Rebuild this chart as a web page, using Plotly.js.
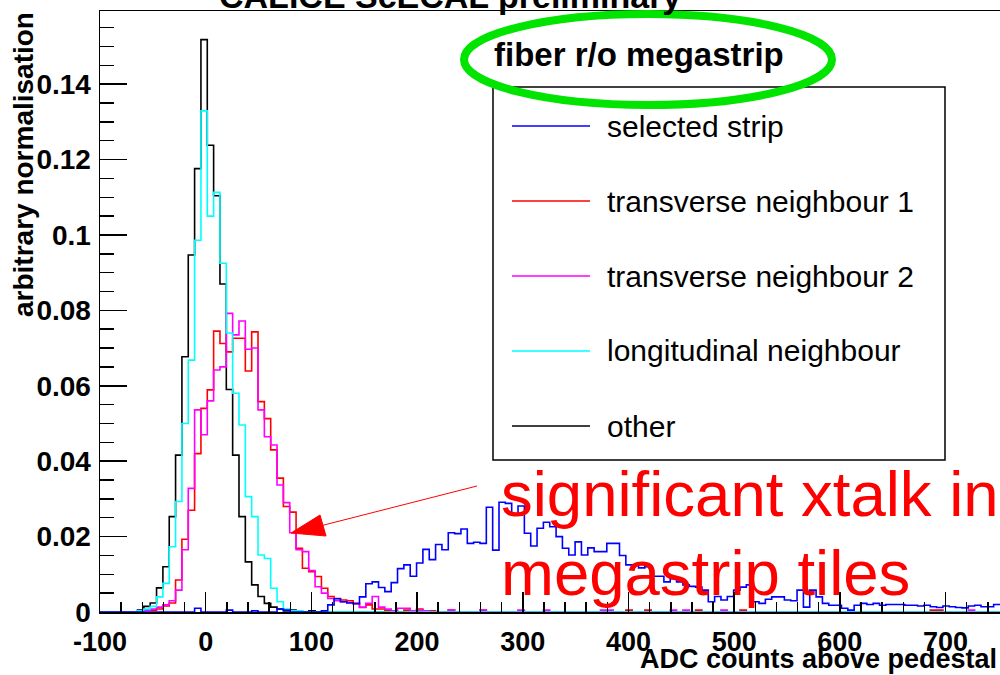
<!DOCTYPE html>
<html>
<head>
<meta charset="utf-8">
<script src="https://cdn.plot.ly/plotly-3.0.1.min.js"></script>
<style>html,body{margin:0;padding:0;background:#fff;}#chart{width:1000px;height:675px;}</style>
</head>
<body>
<div id="chart"></div>
<script>
// Histogram binning (ADC counts): 142 bins of width 6 starting at -100.5
const BIN_START = -100.5;
const BIN_WIDTH = 6;

const seriesNames = ['selected strip', 'transverse neighbour 1', 'transverse neighbour 2', 'longitudinal neighbour', 'other'];
const seriesColors = ['#0000ff', '#ff0000', '#ff00ff', '#00ffff', '#000000'];

const selectedStrip = [
 0,0,0,0,0,0,0,0,0,0,
 0,0,0,0,0,0.0010,0,0,0,0,
 0.0005,0,0,0,0.0003,0,0,0,0.0008,0.0005,
 0,0,0,0,0,0.0003,0.0019,0.0035,0.0027,0.0024,
 0.0022,0.0040,0.0075,0.0080,0.0065,0.0054,0.0078,0.0115,0.0125,0.0095,
 0.0130,0.0166,0.0139,0.0179,0.0165,0.0210,0.0208,0.0220,0.0182,0.0185,
 0.0182,0.0278,0.0164,0.0291,0.0288,0.0257,0.0281,0.0209,0.0175,0.0222,
 0.0238,0.0226,0.0200,0.0169,0.0151,0.0186,0.0151,0.0170,0.0160,0.0160,
 0.0182,0.0182,0.0150,0.0125,0.0125,0.0117,0.0120,0.0095,0.0095,0.0080,
 0.0088,0.0080,0.0072,0.0068,0.0066,0.0058,0.0027,0.0041,0.0032,0.0041,
 0.0058,0.0066,0.0072,0.0027,0.0023,0.0034,0.0040,0.0040,0.0032,0.0030,
 0.0058,0.0013,0.0058,0.0040,0.0023,0.0018,0.0018,0.0010,0.0005,0.0018,
 0.0023,0.0020,0.0023,0.0018,0.0020,0.0020,0.0020,0.0018,0.0018,0.0016,
 0.0018,0.0014,0.0012,0.0016,0.0014,0.0012,0.0011,0.0016,0.0018,0.0014,
 0.0014,0.0020
];

const transverse1 = [
 0,0,0,0,0,0,0,0.0005,0.0005,0.0008,
 0.0016,0.0024,0.0085,0.0193,0.0270,0.0420,0.0540,0.0589,0.0745,0.0712,
 0.0690,0.0726,0.0726,0.0639,0.0743,0.0558,0.0513,0.0430,0.0355,0.0280,
 0.0265,0.0169,0.0116,0.0107,0.0094,0.0063,0.0041,0.0036,0.0032,0.0030,
 0.0023,0.0012,0.0019,0.0008,0.0008,0.0005,0.0003,0,0.0005,0,
 0.0008,0,0.0003,0,0,0.0005,0,0,0,0,
 0.0005,0,0,0,0,0,0.0003,0,0,0,
 0,0,0,0,0,0,0,0,0,0,
 0,0,0,0.0005,0,0,0.0005,0,0,0,
 0,0,0,0,0.0005,0,0,0,0,0,
 0,0.0005,0,0,0,0,0,0,0,0,
 0,0,0,0,0,0,0,0,0,0,
 0,0,0,0,0,0,0,0,0,0,
 0,0.0005,0.0005,0,0,0,0,0,0,0,
 0,0
];

const transverse2 = [
 0,0,0,0,0,0,0,0.0005,0.0008,0.0013,
 0.0019,0.0030,0.0058,0.0165,0.0328,0.0536,0.0470,0.0560,0.0642,0.0650,
 0.0792,0.0735,0.0772,0.0697,0.0700,0.0536,0.0465,0.0443,0.0337,0.0290,
 0.0210,0.0165,0.0160,0.0110,0.0067,0.0050,0.0036,0.0030,0.0027,0.0025,
 0.0023,0.0013,0.0023,0.0041,0.0013,0.0008,0.0003,0.0010,0.0010,0.0003,
 0.0005,0.0003,0,0,0,0.0005,0,0,0,0,
 0.0005,0,0,0,0,0,0.0005,0,0,0,
 0.0005,0,0,0,0,0,0,0,0,0.0005,
 0.0005,0,0,0,0,0,0,0,0,0,
 0.0005,0,0.0005,0,0,0,0,0,0.0005,0,
 0,0,0,0,0,0,0,0,0,0,
 0,0,0,0,0,0,0,0,0,0,
 0,0,0,0,0,0,0,0,0,0,
 0,0,0,0,0,0,0,0.0005,0,0,
 0,0
];

const longitudinal = [
 0,0,0,0,0,0,0.0003,0.0008,0.0015,0.0040,
 0.0076,0.0173,0.0293,0.0500,0.0668,0.0986,0.1329,0.1050,0.1113,0.0925,
 0.0740,0.0580,0.0496,0.0306,0.0253,0.0151,0.0142,0.0063,0.0027,0.0008,
 0.0003,0.0003,0,0,0,0,0,0,0,0,
 0,0,0,0,0,0,0,0,0,0,
 0,0,0,0,0,0,0,0,0,0,
 0,0,0,0,0,0,0,0,0,0,
 0,0,0,0,0,0,0,0,0,0,
 0,0,0,0,0,0,0,0,0,0,
 0,0,0,0,0,0,0,0,0,0,
 0,0,0,0,0,0,0,0,0,0,
 0,0,0,0,0,0,0,0,0,0,
 0,0,0,0,0,0,0,0,0,0,
 0,0,0,0,0,0,0,0,0,0,
 0,0
];

const other = [
 0,0,0,0,0,0,0.0005,0.0015,0.0024,0.0064,
 0.0120,0.0253,0.0416,0.0677,0.0947,0.1176,0.1518,0.1238,0.1104,0.0870,
 0.0590,0.0416,0.0253,0.0133,0.0072,0.0041,0.0023,0.0013,0.0008,0.0003,
 0.0005,0.0003,0,0.0003,0,0,0,0,0,0,
 0,0,0,0,0,0,0,0,0,0,
 0,0.0003,0,0,0,0,0,0,0,0,
 0,0,0,0,0,0,0,0,0,0,
 0,0,0,0,0,0,0,0,0,0,
 0,0,0,0,0,0,0,0,0,0,
 0,0,0,0,0,0,0,0,0,0,
 0,0,0,0,0,0,0,0,0,0,
 0,0,0,0,0,0,0,0,0,0,
 0,0,0,0,0,0,0,0,0,0,
 0,0,0,0,0,0,0,0,0,0,
 0,0
];

const seriesValues = [selectedStrip, transverse1, transverse2, longitudinal, other];

const xTickVals = [-100, 0, 100, 200, 300, 400, 500, 600, 700];
const yTickVals = [0, 0.02, 0.04, 0.06, 0.08, 0.1, 0.12, 0.14];
const yTickText = ['0', '0.02', '0.04', '0.06', '0.08', '0.1', '0.12', '0.14'];

const FONT = 'Liberation Sans, Arial, Helvetica, sans-serif';

function stepTrace(vals, color, name) {
  const xs = [], ys = [];
  for (let i = 0; i < vals.length; i++) { xs.push(BIN_START + i * BIN_WIDTH); ys.push(vals[i]); }
  xs.push(BIN_START + vals.length * BIN_WIDTH); ys.push(vals[vals.length - 1]);
  return {x: xs, y: ys, type: 'scatter', mode: 'lines', name: name,
          line: {shape: 'hv', color: color, width: 1.6}, showlegend: false, hoverinfo: 'skip'};
}

// drawing order: other, transverse 1, transverse 2, longitudinal, selected strip
const drawOrder = [4, 1, 2, 3, 0];
const data = drawOrder.map(i => stepTrace(seriesValues[i], seriesColors[i], seriesNames[i]));

// pixel helpers for the decorations (plot area: x 100..1000, y 11..612)
const px = p => (p - 100) / 900;
const py = p => (612 - p) / 601;

const shapes = [];
const annotations = [];

// legend box
shapes.push({type: 'rect', xref: 'paper', yref: 'paper', x0: px(493), x1: px(945), y0: py(460), y1: py(87),
             line: {color: '#000', width: 1.5}, fillcolor: '#fff', layer: 'above'});
for (let i = 0; i < seriesNames.length; i++) {
  const yy = 126 + i * 75;
  shapes.push({type: 'line', xref: 'paper', yref: 'paper', x0: px(512), x1: px(590), y0: py(yy), y1: py(yy),
               line: {color: seriesColors[i], width: 1.6}, layer: 'above'});
  annotations.push({xref: 'paper', yref: 'paper', x: px(605), y: py(yy), xanchor: 'left', yanchor: 'middle',
                    text: seriesNames[i], showarrow: false, font: {family: FONT, size: 30, color: '#000'}});
}
// green ellipse
shapes.push({type: 'circle', xref: 'paper', yref: 'paper', x0: px(464), x1: px(832), y0: py(105), y1: py(14),
             line: {color: '#00e400', width: 8}, layer: 'above'});
// red arrow
shapes.push({type: 'line', xref: 'paper', yref: 'paper', x0: px(320), y0: py(526), x1: px(477), y1: py(486),
             line: {color: '#ff0000', width: 1}, layer: 'above'});
shapes.push({type: 'path', xref: 'paper', yref: 'paper',
             path: 'M ' + px(291) + ',' + py(533) + ' L ' + px(320) + ',' + py(515) + ' L ' + px(326) + ',' + py(536) + ' Z',
             fillcolor: '#ff0000', line: {color: '#ff0000', width: 1}, layer: 'above'});

annotations.push({xref: 'paper', yref: 'paper', x: px(492), y: py(54), xanchor: 'left', yanchor: 'middle',
                  text: 'fiber r/o megastrip', showarrow: false, font: {family: FONT, size: 33, color: '#000', weight: 'bold'}});
annotations.push({xref: 'paper', yref: 'paper', x: px(217), y: py(17), xanchor: 'left', yanchor: 'bottom',
                  text: 'CALICE ScECAL preliminary', showarrow: false, font: {family: FONT, size: 34, color: '#000', weight: 'bold'}});
annotations.push({xref: 'paper', yref: 'paper', x: px(23), y: py(165), xanchor: 'center', yanchor: 'middle', textangle: -90,
                  text: 'arbitrary normalisation', showarrow: false, font: {family: FONT, size: 28, color: '#000', weight: 'bold'}});
annotations.push({xref: 'paper', yref: 'paper', x: px(998), y: py(675), xanchor: 'right', yanchor: 'bottom', borderpad: 0,
                  text: 'ADC counts above pedestal', showarrow: false, font: {family: FONT, size: 27, color: '#000', weight: 'bold'}});
annotations.push({xref: 'paper', yref: 'paper', x: px(499), y: py(494), xanchor: 'left', yanchor: 'middle',
                  text: 'significant xtalk in', showarrow: false, font: {family: FONT, size: 63.5, color: '#ff0000'}});
annotations.push({xref: 'paper', yref: 'paper', x: px(499), y: py(573), xanchor: 'left', yanchor: 'middle',
                  text: 'megastrip tiles', showarrow: false, font: {family: FONT, size: 63.5, color: '#ff0000'}});

const layout = {
  width: 1000, height: 675,
  margin: {l: 100, r: 0, t: 11, b: 63, pad: 0},
  paper_bgcolor: '#fff', plot_bgcolor: '#fff',
  showlegend: false,
  xaxis: {range: [-100, 751.5], tickvals: xTickVals, ticktext: xTickVals.map(String),
          ticks: 'inside', ticklen: 20, tickwidth: 1.5, tickcolor: '#000',
          minor: {dtick: 20, tick0: 0, ticks: 'inside', ticklen: 10, tickwidth: 1.5, tickcolor: '#000', showgrid: false},
          showline: true, linecolor: '#000', linewidth: 1.5, mirror: true, showgrid: false, zeroline: false,
          tickfont: {family: FONT, size: 27, color: '#000', weight: 'bold'}, ticklabelstandoff: 5},
  yaxis: {range: [0, 0.1594], tickvals: yTickVals, ticktext: yTickText,
          ticks: 'inside', ticklen: 27, tickwidth: 1.5, tickcolor: '#000',
          minor: {dtick: 0.005, tick0: 0, ticks: 'inside', ticklen: 14, tickwidth: 1.5, tickcolor: '#000', showgrid: false},
          showline: true, linecolor: '#000', linewidth: 1.5, mirror: false, showgrid: false, zeroline: false,
          tickfont: {family: FONT, size: 28, color: '#000', weight: 'bold'}, ticklabelstandoff: 2},
  shapes: shapes,
  annotations: annotations
};

Plotly.newPlot('chart', data, layout, {staticPlot: true, displayModeBar: false});
</script>
</body>
</html>
